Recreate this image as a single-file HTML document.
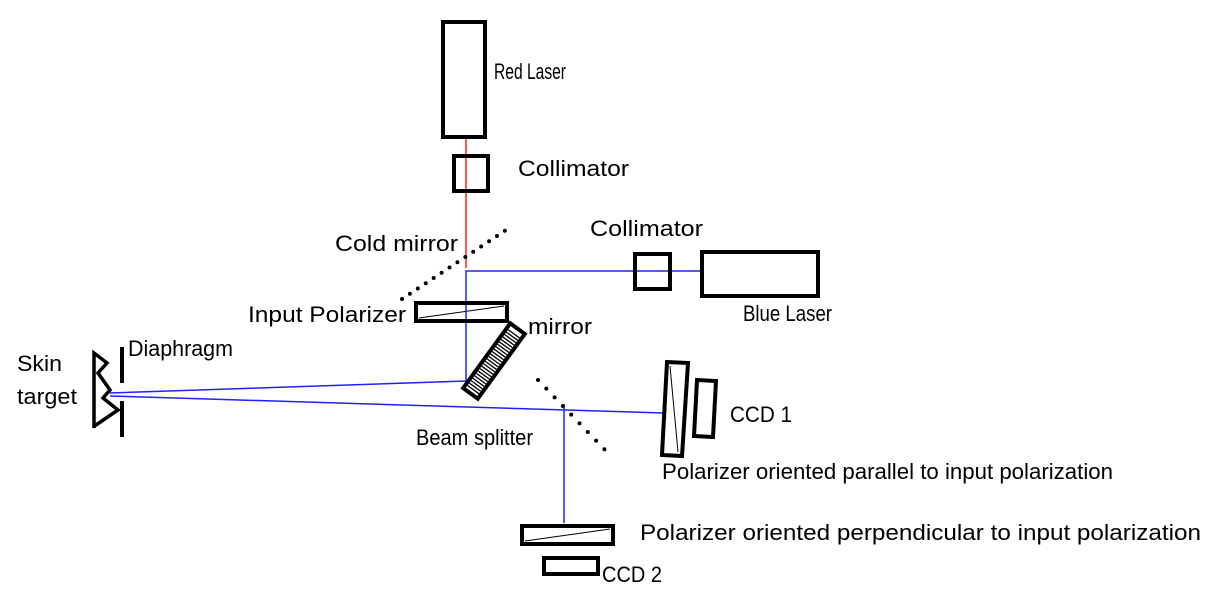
<!DOCTYPE html>
<html><head><meta charset="utf-8"><style>
html,body{margin:0;padding:0;background:#fff;}
svg{display:block;}
text{font-family:"Liberation Sans",Arial,sans-serif;font-size:22px;fill:#000;}
</style></head><body>
<svg width="1214" height="611" viewBox="0 0 1214 611" xmlns="http://www.w3.org/2000/svg">
<line x1="466" y1="138" x2="466" y2="268" stroke="#ff2020" stroke-width="1.5"/>
<polyline points="701,271 466,271 466,381 110,393" fill="none" stroke="#2020ff" stroke-width="1.5"/>
<line x1="110" y1="396" x2="664" y2="413" stroke="#2020ff" stroke-width="1.5"/>
<line x1="564" y1="404" x2="564" y2="523" stroke="#2020ff" stroke-width="1.5"/>
<rect x="443" y="22" width="42" height="115" fill="none" stroke="#000" stroke-width="4"/>
<rect x="454" y="156" width="34" height="35" fill="none" stroke="#000" stroke-width="4"/>
<rect x="635" y="254" width="35" height="35" fill="none" stroke="#000" stroke-width="4"/>
<rect x="702" y="252" width="116" height="44" fill="none" stroke="#000" stroke-width="4"/>
<line x1="402" y1="299" x2="512" y2="226" stroke="#000" stroke-width="4" stroke-linecap="round" stroke-dasharray="0 9.5"/>
<line x1="538" y1="380" x2="607" y2="452" stroke="#000" stroke-width="4" stroke-linecap="round" stroke-dasharray="0 12"/>
<rect x="416" y="303" width="91" height="18" fill="#fff" stroke="#000" stroke-width="4"/>
<line x1="419" y1="318" x2="504" y2="306" stroke="#000" stroke-width="1"/>
<line x1="466" y1="305" x2="466" y2="319" stroke="#2020ff" stroke-width="1.5"/>
<g transform="translate(494,361) rotate(-54)">
<rect x="-40" y="-9" width="80" height="18" fill="#fff" stroke="#000" stroke-width="4"/>
<line x1="-36" y1="0" x2="36" y2="0" stroke="#000" stroke-width="14" stroke-dasharray="1.3 1.7"/>
</g>
<polyline points="94,428 94,353 107,363 98,373 110,390 103,398 118,410 93,427" fill="none" stroke="#000" stroke-width="3.5"/>
<line x1="122" y1="347" x2="122" y2="383" stroke="#000" stroke-width="4"/>
<line x1="122" y1="401" x2="122" y2="437" stroke="#000" stroke-width="4"/>
<polygon points="667,362 688,363 682,456 662,455" fill="#fff" stroke="#000" stroke-width="4"/>
<line x1="670" y1="366" x2="678" y2="452" stroke="#000" stroke-width="1"/>
<polygon points="697,380 716,381 713,437 694,436" fill="none" stroke="#000" stroke-width="4"/>
<rect x="522" y="526" width="91" height="18" fill="#fff" stroke="#000" stroke-width="4"/>
<line x1="525" y1="541" x2="610" y2="529" stroke="#000" stroke-width="1"/>
<rect x="544" y="558" width="54" height="16" fill="none" stroke="#000" stroke-width="4"/>
<text x="494" y="79" textLength="72" lengthAdjust="spacingAndGlyphs">Red Laser</text>
<text x="518" y="176" textLength="111" lengthAdjust="spacingAndGlyphs">Collimator</text>
<text x="335" y="251" textLength="123" lengthAdjust="spacingAndGlyphs">Cold  mirror</text>
<text x="590" y="236" textLength="113" lengthAdjust="spacingAndGlyphs">Collimator</text>
<text x="248" y="322" textLength="158" lengthAdjust="spacingAndGlyphs">Input Polarizer</text>
<text x="743" y="321" textLength="89" lengthAdjust="spacingAndGlyphs">Blue Laser</text>
<text x="528" y="334" textLength="64" lengthAdjust="spacingAndGlyphs">mirror</text>
<text x="128" y="356" textLength="105" lengthAdjust="spacingAndGlyphs">Diaphragm</text>
<text x="17" y="371" textLength="45" lengthAdjust="spacingAndGlyphs">Skin</text>
<text x="17" y="404" textLength="60" lengthAdjust="spacingAndGlyphs">target</text>
<text x="416" y="445" textLength="117" lengthAdjust="spacingAndGlyphs">Beam splitter</text>
<text x="730" y="422" textLength="62" lengthAdjust="spacingAndGlyphs">CCD 1</text>
<text x="662" y="479" textLength="451" lengthAdjust="spacingAndGlyphs">Polarizer oriented parallel to  input polarization</text>
<text x="640" y="540" textLength="561" lengthAdjust="spacingAndGlyphs">Polarizer oriented perpendicular to input polarization</text>
<text x="602" y="582" textLength="60" lengthAdjust="spacingAndGlyphs">CCD 2</text>
</svg>
</body></html>
